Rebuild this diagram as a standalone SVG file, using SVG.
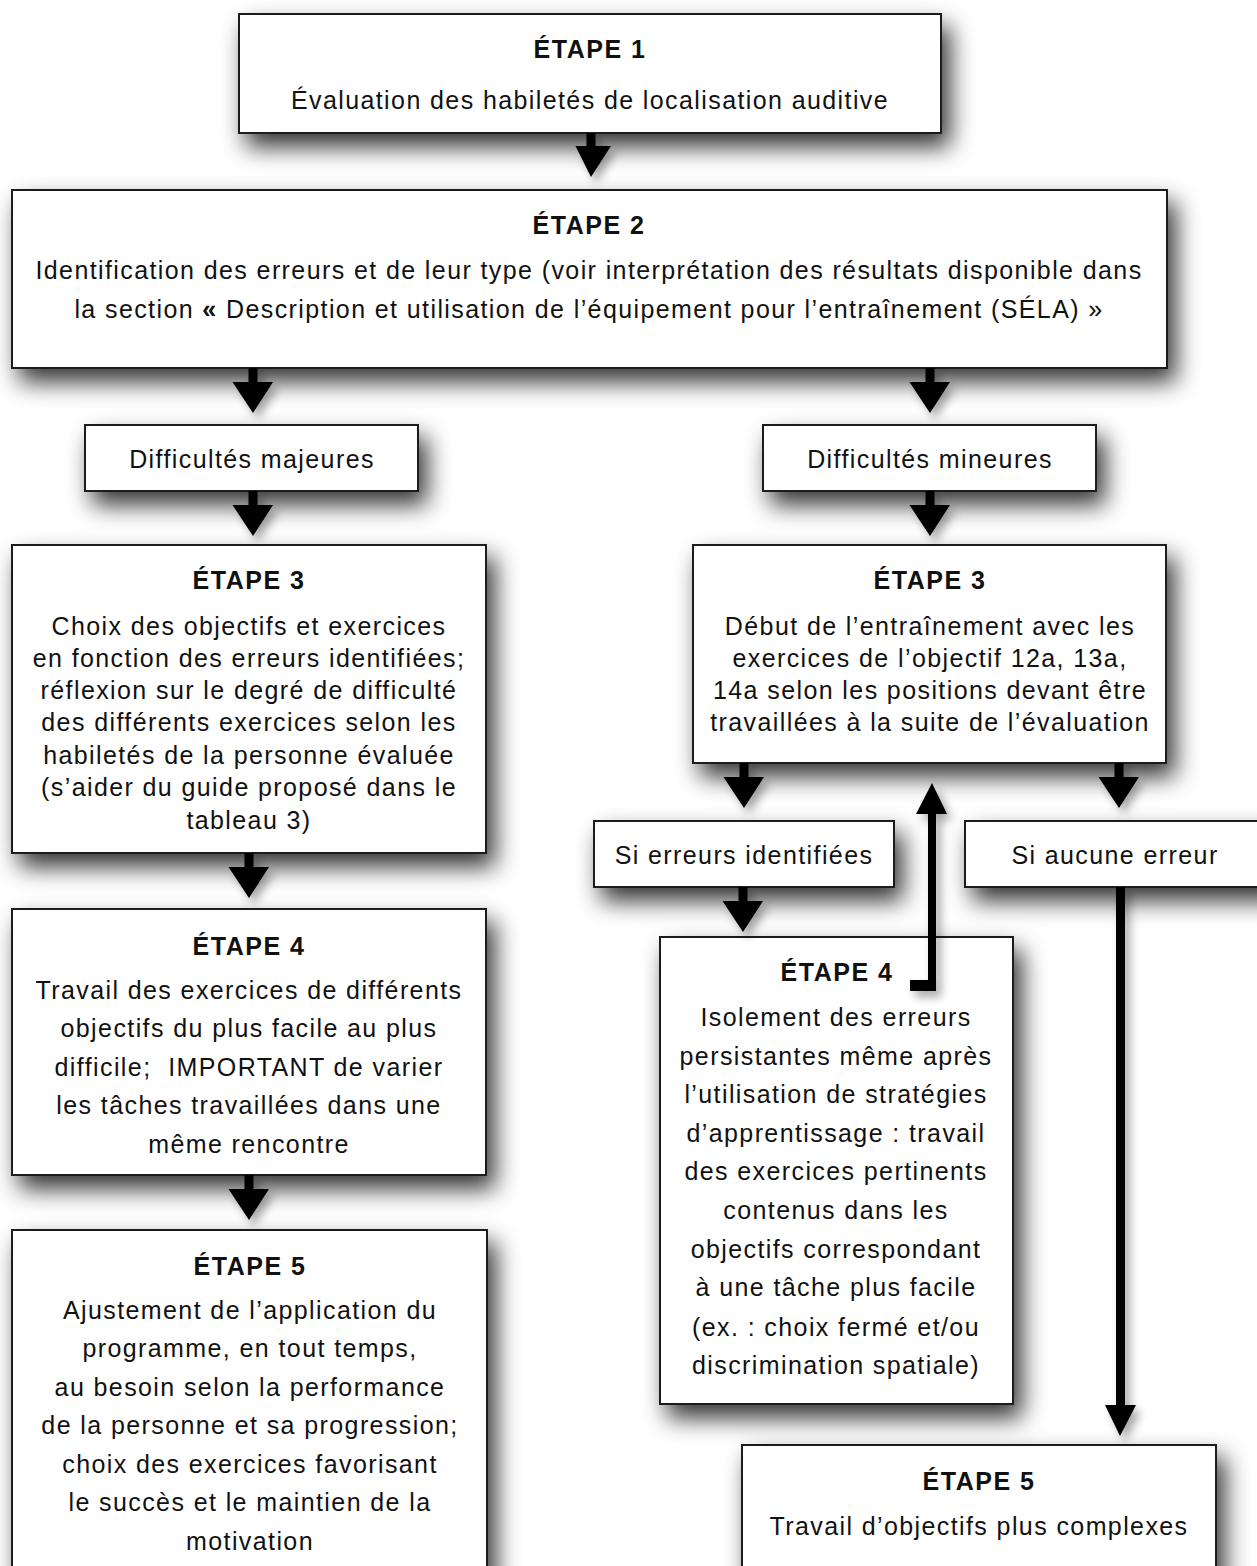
<svg xmlns="http://www.w3.org/2000/svg" width="1257" height="1566" viewBox="0 0 1257 1566">
<defs>
<filter id="sh" x="-10%" y="-20%" width="130%" height="160%">
<feGaussianBlur in="SourceAlpha" stdDeviation="12"/>
<feOffset dx="8" dy="13" result="b"/>
<feComponentTransfer><feFuncA type="linear" slope="0.8"/></feComponentTransfer>
<feMerge><feMergeNode/><feMergeNode in="SourceGraphic"/></feMerge>
</filter>
<filter id="ash" x="-100%" y="-50%" width="300%" height="200%">
<feGaussianBlur in="SourceAlpha" stdDeviation="5"/>
<feOffset dx="5" dy="6"/>
<feComponentTransfer><feFuncA type="linear" slope="0.35"/></feComponentTransfer>
<feMerge><feMergeNode/><feMergeNode in="SourceGraphic"/></feMerge>
</filter>
</defs>
<style>
.box{fill:#fff;stroke:#1a1a1a;stroke-width:2}
text{font-family:"Liberation Sans",Arial,sans-serif;font-size:25px;letter-spacing:1.4px;fill:#111;text-anchor:middle}
.t{font-weight:bold;letter-spacing:1.5px}
.arr{fill:#000}
</style>
<rect width="1257" height="1566" fill="#fff"/>
<g id="nodes-bg" filter="url(#sh)">
<rect class="box" x="239" y="14" width="702" height="119"/>
<rect class="box" x="12" y="190" width="1155" height="178"/>
<rect class="box" x="85" y="425" width="333" height="66"/>
<rect class="box" x="763" y="425" width="333" height="66"/>
<rect class="box" x="12" y="545" width="474" height="308"/>
<rect class="box" x="693" y="545" width="473" height="218"/>
<rect class="box" x="12" y="909" width="474" height="266"/>
<rect class="box" x="12" y="1230" width="475" height="360"/>
<rect class="box" x="594" y="821" width="300" height="66"/>
<rect class="box" x="965" y="821" width="310" height="66"/>
<rect class="box" x="660" y="937" width="353" height="467"/>
<rect class="box" x="742" y="1445" width="474" height="150"/>
</g>
<g id="connectors" filter="url(#ash)">
<path class="arr" d="M586.5 133h9v13h15.5L591 177 575.5 146h11z"/>
<path class="arr" d="M248.5 368h9v14h15.5L253 413 232.5 382h16z"/>
<path class="arr" d="M925.5 368h9v14h15.5L930 413 909.5 382h16z"/>
<path class="arr" d="M248.5 491h9v14h15.5L253 536 232.5 505h16z"/>
<path class="arr" d="M925.5 491h9v14h15.5L930 536 909.5 505h16z"/>
<path class="arr" d="M244.5 853h9v14h15.5L249 898 228.5 867h16z"/>
<path class="arr" d="M244.5 1175h9v14h15.5L249 1220 228.5 1189h16z"/>
<path class="arr" d="M739.5 763h9v14h15.5L744 808 723.5 777h16z"/>
<path class="arr" d="M1114.5 763h9v14h15.5L1119 808 1098.5 777h16z"/>
<path class="arr" d="M738.5 887h9v14h15.5L743 932 722.5 901h16z"/>
<path class="arr" d="M1116 887h9v518h11L1120 1436 1105 1405h11z"/>
<path class="arr" d="M910 980h18V814h-12L932 783 947 814h-11V991h-26z"/>
</g>
<g id="n1"><text class="t" x="590" y="58">ÉTAPE 1</text><text x="590" y="109">Évaluation des habiletés de localisation auditive</text></g>
<g id="n2"><text class="t" x="589" y="234">ÉTAPE 2</text><text x="589" y="279">Identification des erreurs et de leur type (voir interprétation des résultats disponible dans</text><text x="589" y="318">la section <tspan font-weight="bold">«</tspan> Description et utilisation de l’équipement pour l’entraînement (SÉLA) »</text></g>
<g id="n3"><text x="252" y="468">Difficultés majeures</text></g>
<g id="n4"><text x="930" y="468">Difficultés mineures</text></g>
<g id="n5"><text class="t" x="249" y="589">ÉTAPE 3</text>
<text x="249" y="635">Choix des objectifs et exercices</text>
<text x="249" y="667">en fonction des erreurs identifiées;</text>
<text x="249" y="699">réflexion sur le degré de difficulté</text>
<text x="249" y="731">des différents exercices selon les</text>
<text x="249" y="764">habiletés de la personne évaluée</text>
<text x="249" y="796">(s’aider du guide proposé dans le</text>
<text x="249" y="829">tableau 3)</text></g>
<g id="n6"><text class="t" x="930" y="589">ÉTAPE 3</text>
<text x="930" y="635">Début de l’entraînement avec les</text>
<text x="930" y="667">exercices de l’objectif 12a, 13a,</text>
<text x="930" y="699">14a selon les positions devant être</text>
<text x="930" y="731">travaillées à la suite de l’évaluation</text></g>
<g id="n7"><text class="t" x="249" y="955">ÉTAPE 4</text>
<text x="249" y="999">Travail des exercices de différents</text>
<text x="249" y="1037">objectifs du plus facile au plus</text>
<text x="249" y="1076" xml:space="preserve">difficile;  IMPORTANT de varier</text>
<text x="249" y="1114">les tâches travaillées dans une</text>
<text x="249" y="1153">même rencontre</text></g>
<g id="n8"><text class="t" x="250" y="1275">ÉTAPE 5</text>
<text x="250" y="1319">Ajustement de l’application du</text>
<text x="250" y="1357">programme, en tout temps,</text>
<text x="250" y="1396">au besoin selon la performance</text>
<text x="250" y="1434">de la personne et sa progression;</text>
<text x="250" y="1473">choix des exercices favorisant</text>
<text x="250" y="1511">le succès et le maintien de la</text>
<text x="250" y="1550">motivation</text></g>
<g id="n9"><text x="744" y="864">Si erreurs identifiées</text></g>
<g id="n10"><text x="1115" y="864">Si aucune erreur</text></g>
<g id="n11"><text class="t" x="837" y="981">ÉTAPE 4</text>
<text x="836" y="1026">Isolement des erreurs</text>
<text x="836" y="1065">persistantes même après</text>
<text x="836" y="1103">l’utilisation de stratégies</text>
<text x="836" y="1142">d’apprentissage : travail</text>
<text x="836" y="1180">des exercices pertinents</text>
<text x="836" y="1219">contenus dans les</text>
<text x="836" y="1258">objectifs correspondant</text>
<text x="836" y="1296">à une tâche plus facile</text>
<text x="836" y="1336">(ex. : choix fermé et/ou</text>
<text x="836" y="1374">discrimination spatiale)</text></g>
<g id="n12"><text class="t" x="979" y="1490">ÉTAPE 5</text>
<text x="979" y="1535">Travail d’objectifs plus complexes</text></g>
</svg>
